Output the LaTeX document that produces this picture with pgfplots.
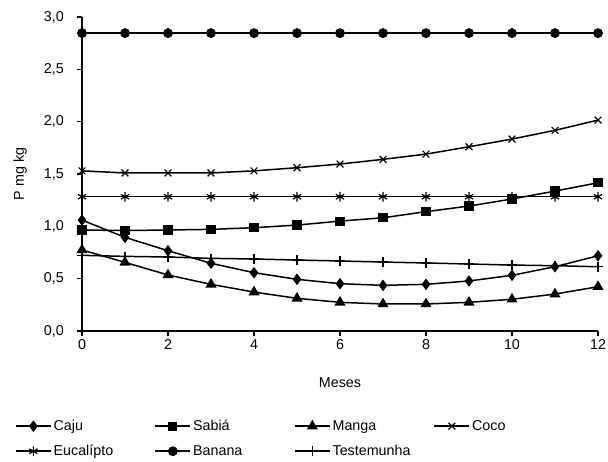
\documentclass[border=0pt]{standalone}
\usepackage{pgfplots}
\pgfplotsset{compat=1.18}
\usepackage{fontspec}
\setmainfont{Liberation Sans}
\newcommand{\legbox}[1]{\makebox[99pt][l]{#1}}
\begin{document}
\begin{tikzpicture}[font=\fontsize{14.3}{17}\selectfont]
\begin{axis}[
  scale only axis, width=516pt, height=314pt,
  xmin=0, xmax=12, ymin=0, ymax=3,
  axis lines*=left, axis line style={line width=1.1pt},
  tick align=outside, major tick length=5pt,
  tick style={black, line width=1.1pt},
  xtick={0,2,...,12}, ytick={0,0.5,...,3},
  /pgf/number format/assume math mode=true,
  yticklabel={\pgfmathprintnumber[fixed,fixed zerofill,precision=1,use comma,assume math mode=true]{\tick}},
  yticklabel style={anchor=east, inner sep=3pt, xshift=-10pt},
  xlabel={Meses}, ylabel={P mg kg},
  xlabel style={at={(axis description cs:0.5,-0.166)}, anchor=center},
  ylabel style={at={(axis description cs:-0.12,0.5)}, anchor=center},
  clip=false,
  every axis plot/.append style={black, line width=1.5pt, mark options={solid, fill=black, line width=1.2pt}},
  legend columns=4,
  legend style={draw=none, at={(-0.13,-0.277)}, anchor=north west,
     inner sep=0pt, /tikz/row sep=9pt},
  legend image code/.code={\draw[mark repeat=2,mark phase=2] plot coordinates {(0pt,0pt) (17.5pt,0pt) (35pt,0pt)};},
]
\addplot[mark=diamond*, mark size=4.8pt] coordinates {(0,1.06)(1,0.895)(2,0.767)(3,0.647)(4,0.557)(5,0.494)(6,0.452)(7,0.436)(8,0.446)(9,0.478)(10,0.532)(11,0.614)(12,0.719)};
\addlegendentry{\legbox{Caju}}
\addplot[mark=square*, mark size=4pt] coordinates {(0,0.965)(1,0.96)(2,0.965)(3,0.971)(4,0.987)(5,1.012)(6,1.05)(7,1.082)(8,1.14)(9,1.194)(10,1.261)(11,1.337)(12,1.416)};
\addlegendentry{\legbox{Sabiá}}
\addplot[mark=triangle*, mark size=5.2pt] coordinates {(0,0.774)(1,0.656)(2,0.535)(3,0.446)(4,0.372)(5,0.312)(6,0.274)(7,0.258)(8,0.258)(9,0.274)(10,0.303)(11,0.353)(12,0.423)};
\addlegendentry{\legbox{Manga}}
\addplot[mark=x, mark size=4.8pt] coordinates {(0,1.53)(1,1.51)(2,1.51)(3,1.51)(4,1.53)(5,1.56)(6,1.595)(7,1.64)(8,1.69)(9,1.76)(10,1.834)(11,1.917)(12,2.015)};
\addlegendentry{\legbox{Coco}}
\addplot[mark=asterisk, mark size=4.8pt] coordinates {(0,1.283)(1,1.283)(2,1.283)(3,1.283)(4,1.283)(5,1.283)(6,1.283)(7,1.283)(8,1.283)(9,1.283)(10,1.283)(11,1.283)(12,1.283)};
\addlegendentry{\legbox{Eucalípto}}
\addplot[mark=*, mark size=4.3pt] coordinates {(0,2.846)(1,2.846)(2,2.846)(3,2.846)(4,2.846)(5,2.846)(6,2.846)(7,2.846)(8,2.846)(9,2.846)(10,2.846)(11,2.846)(12,2.846)};
\addlegendentry{\legbox{Banana}}
\addplot[mark=+, mark size=4.8pt] coordinates {(0,0.723)(1,0.713)(2,0.707)(3,0.694)(4,0.688)(5,0.678)(6,0.669)(7,0.659)(8,0.65)(9,0.64)(10,0.63)(11,0.624)(12,0.614)};
\addlegendentry{\legbox{Testemunha}}
\end{axis}
\pgfresetboundingbox
\path[use as bounding box] (current axis.south west) ++(-82pt,-130pt) rectangle ++(608pt,461pt);
\end{tikzpicture}
\end{document}
